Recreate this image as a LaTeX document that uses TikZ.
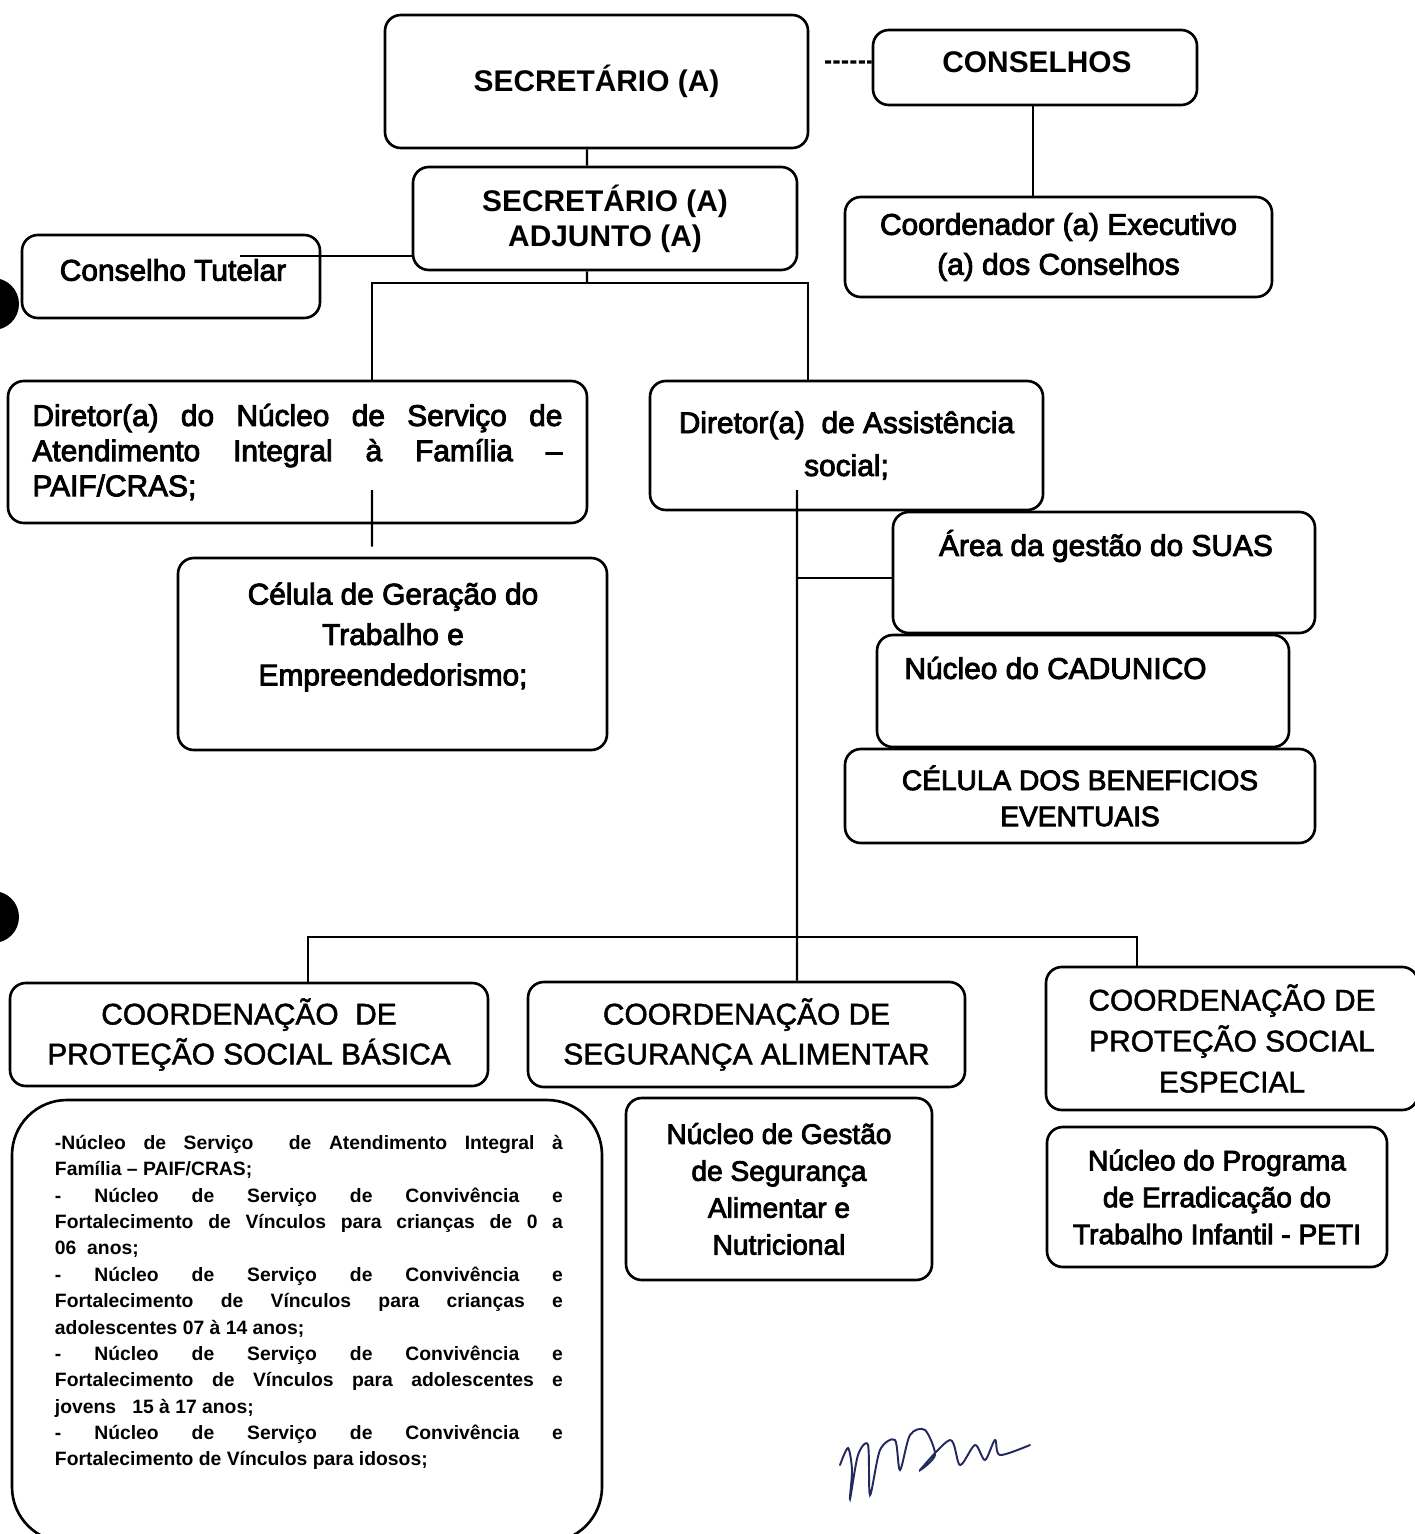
\documentclass[tikz,border=0pt]{standalone}
\usepackage{fontspec}
\setmainfont{Liberation Sans}
\newfontfamily\inkfont[FakeBold=3]{Liberation Sans}
\newfontfamily\midfont[FakeBold=1.5]{Liberation Sans}
\usepackage{xcolor}
\usetikzlibrary{positioning,calc}
\definecolor{signink}{RGB}{35,40,95}
\hyphenpenalty=10000
\exhyphenpenalty=10000

\begin{document}
\begin{tikzpicture}[
    orgbox/.style={draw, line width=1.5pt, rounded corners=9pt, inner sep=2pt, align=center,
        font=\inkfont\fontsize{17}{22}\selectfont},
    headbox/.style={orgbox, font=\bfseries\fontsize{17}{20}\selectfont},
    coordbox/.style={orgbox, font=\midfont\fontsize{17}{22.7}\selectfont},
    lbl/.style={inner sep=0pt, align=center, font=\inkfont\fontsize{17}{22}\selectfont},
    link/.style={line width=1.3pt}
]
    \path[use as bounding box, fill=white] (0,0) rectangle (28.28,-30.68);

    % top level
    \node[headbox, minimum width=8.46cm, minimum height=2.66cm] (sec) at (11.93,-1.63) {SECRETÁRIO (A)};
    \node[headbox, minimum width=6.48cm, minimum height=1.50cm] (cons) at (20.70,-1.35) {};
    \node[lbl, font=\bfseries\fontsize{17}{20}\selectfont] (constxt) at (20.74,-1.24) {CONSELHOS};
    \node[headbox, minimum width=7.68cm, minimum height=2.06cm] (adj) at (12.10,-4.37) {SECRETÁRIO (A)\\ADJUNTO (A)};
    \node[orgbox, minimum width=8.54cm, minimum height=2.00cm, font=\inkfont\fontsize{17}{22.7}\selectfont] (coordex) at (21.17,-4.94) {Coordenador (a) Executivo\\(a) dos Conselhos};
    \node[orgbox, minimum width=5.96cm, minimum height=1.66cm] (tutelar) at (3.42,-5.53) {};
    \node[lbl] (tutelartxt) at (3.46,-5.40) {Conselho Tutelar};

    % directors
    \node[orgbox, minimum width=11.58cm, minimum height=2.84cm, text width=10.6cm, align=justify,
        font=\inkfont\fontsize{17}{20}\selectfont] (dirpaif) at (5.95,-9.04)
        {Diretor(a) do Núcleo de Serviço de\linebreak Atendimento Integral à Família~–\linebreak PAIF/CRAS;};
    \node[orgbox, minimum width=7.86cm, minimum height=2.58cm, font=\inkfont\fontsize{17}{24.4}\selectfont] (dirass) at (16.93,-8.91) {Diretor(a)\ \ de Assistência\\social;};

    \node[orgbox, minimum width=8.58cm, minimum height=3.84cm] (celula) at (7.85,-13.08) {};
    \node[lbl, font=\inkfont\fontsize{17}{23}\selectfont] (celulatxt) at (7.86,-12.74) {Célula de Geração do\\Trabalho e\\Empreendedorismo;};

    \node[orgbox, minimum width=8.44cm, minimum height=2.42cm] (suas) at (22.08,-11.45) {};
    \node[lbl] (suastxt) at (22.12,-10.92) {Área da gestão do SUAS};
    \node[orgbox, minimum width=8.24cm, minimum height=2.24cm] (cadunico) at (21.66,-13.82) {};
    \node[lbl] (cadunicotxt) at (21.11,-13.36) {Núcleo do CADUNICO};
    \node[orgbox, minimum width=9.40cm, minimum height=1.88cm, font=\inkfont\fontsize{16}{20.5}\selectfont] (benef) at (21.60,-15.92) {CÉLULA DOS BENEFICIOS\\EVENTUAIS};

    % coordinations
    \node[coordbox, minimum width=9.56cm, minimum height=2.06cm] (cpsb) at (4.98,-20.69) {COORDENAÇÃO\ \ DE\\PROTEÇÃO SOCIAL BÁSICA};
    \node[coordbox, minimum width=8.74cm, minimum height=2.10cm] (csa) at (14.93,-20.69) {COORDENAÇÃO DE\\SEGURANÇA ALIMENTAR};
    \node[coordbox, minimum width=7.44cm, minimum height=2.86cm, font=\midfont\fontsize{17}{23.3}\selectfont] (cpse) at (24.64,-20.77) {COORDENAÇÃO DE\\PROTEÇÃO SOCIAL\\ESPECIAL};

    \node[orgbox, rounded corners=1.1cm, minimum width=11.80cm, minimum height=8.84cm] (servicos) at (6.14,-26.42) {};
    \node[anchor=north, inner sep=0pt, text width=10.16cm, align=justify, font=\bfseries\fontsize{11}{15}\selectfont] (servicostxt) at (6.18,-22.70)
        {-Núcleo de Serviço\ \ de Atendimento Integral à\linebreak Família – PAIF/CRAS;\par
         - Núcleo de Serviço de Convivência e\linebreak Fortalecimento de Vínculos para crianças de 0 a\linebreak 06\ \ anos;\par
         - Núcleo de Serviço de Convivência e\linebreak Fortalecimento de Vínculos para crianças e\linebreak adolescentes 07 à 14 anos;\par
         - Núcleo de Serviço de Convivência e\linebreak Fortalecimento de Vínculos para adolescentes e\linebreak jovens\ \ \ 15 à 17 anos;\par
         - Núcleo de Serviço de Convivência e\linebreak Fortalecimento de Vínculos para idosos;};
    \node[orgbox, minimum width=6.12cm, minimum height=3.64cm, font=\inkfont\fontsize{16}{21}\selectfont] (nucgsa) at (15.58,-23.78) {Núcleo de Gestão\\de Segurança\\Alimentar e\\Nutricional};
    \node[orgbox, minimum width=6.80cm, minimum height=2.80cm, font=\inkfont\fontsize{16}{21}\selectfont] (peti) at (24.34,-23.94) {Núcleo do Programa\\de Erradicação do\\Trabalho Infantil - PETI};

    % connectors
    \coordinate (dashend) at (16.50,-1.24);
    \coordinate (tutend) at (4.80,-5.12);
    \coordinate (busA) at (11.74,-5.66);
    \coordinate (busB) at (15.94,-18.74);
    \draw[link] ([xshift=-0.19cm]sec.south) -- ([xshift=-0.36cm]adj.north);
    \draw[line width=1.8pt, dash pattern=on 3.5pt off 1.3pt] (dashend) -- ([yshift=0.11cm]cons.west);
    \draw[link] ([xshift=-0.04cm]cons.south) -- ([xshift=-0.04cm]cons.south |- coordex.north);
    \draw[link] ([yshift=-0.75cm]adj.west) -- (tutend);
    \draw[link] ([xshift=-0.36cm]adj.south) -- (busA);
    \draw[link] ([xshift=1.49cm]dirpaif.north) |- (busA) -| ([xshift=-0.77cm]dirass.north);
    \draw[link] ([xshift=1.49cm,yshift=-0.76cm]dirpaif.center) -- ([xshift=-0.41cm,yshift=0.20cm]celula.north);
    \coordinate (trunk) at ([xshift=-0.99cm,yshift=-0.89cm]dirass.center);
    \draw[link] (trunk) -- ([xshift=1.01cm]csa.north);
    \draw[link] ([yshift=-0.11cm]suas.west) -- ([yshift=-0.11cm]suas.west -| trunk);
    \draw[link] ([xshift=1.18cm]cpsb.north) |- (busB) -| ([xshift=-1.90cm]cpse.north);

    % punch holes and signature
    \fill (-0.14,-6.08) circle (0.52);
    \fill (-0.14,-18.34) circle (0.52);
    \draw[signink, line width=1.1pt, line cap=round] plot [smooth] coordinates {(16.80,-29.30) (16.96,-28.96) (17.04,-29.40) (17.00,-29.98) (17.16,-29.10) (17.36,-28.90) (17.40,-29.90) (17.60,-29.00) (17.90,-28.80) (18.00,-29.40) (18.20,-28.70) (18.50,-28.60) (18.70,-29.10) (18.40,-29.40) (19.00,-28.80) (19.20,-29.30) (19.50,-28.90) (19.70,-29.20) (19.90,-28.80) (20.00,-29.10) (20.60,-28.90)};
\end{tikzpicture}
\end{document}
